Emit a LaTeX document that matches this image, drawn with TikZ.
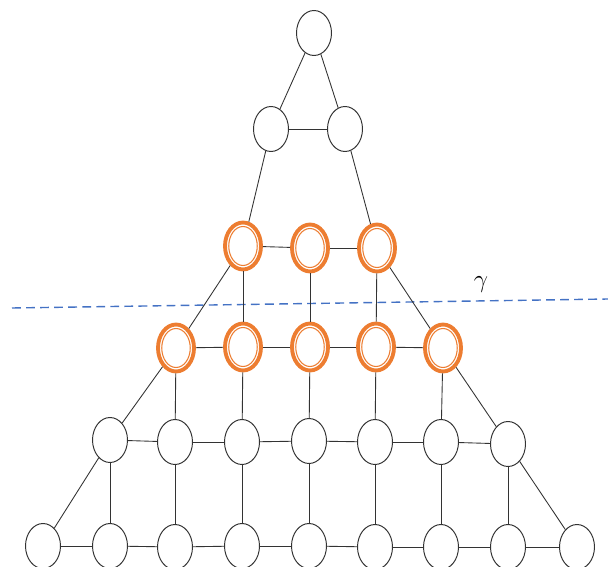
\documentclass[tikz,border=0pt]{standalone}
\usepackage{xcolor}
\usepackage{tikz}
\usetikzlibrary{shapes.geometric,positioning}
\definecolor{cutorange}{RGB}{237,125,49}
\definecolor{cutblue}{RGB}{68,114,196}

\begin{document}
\begin{tikzpicture}[x=0.02cm, y=-0.02cm,
    vtx/.style={ellipse, draw=black!80, line width=0.55pt, fill=white,
        minimum width=0.7cm, minimum height=0.9cm, inner sep=0pt},
    hl/.style={vtx, draw=cutorange, line width=2.2pt,
        minimum width=0.72cm, minimum height=0.94cm,
        path picture={\draw[cutorange, line width=0.6pt] (path picture bounding box.center) ellipse (0.285cm and 0.39cm);}},
    line/.style={draw, black!80, line width=0.5pt},
    cut/.style={draw, cutblue, line width=0.8pt, dash pattern=on 5pt off 3pt}
]
    \useasboundingbox (0,0) rectangle (608,567);

    \path[cut] (12,308) coordinate (cl) -- (608,299) coordinate (cr);
    \node[font=\Large] (gamma) at (481,285) {$\gamma$};

    \node[vtx] (t) at (314,33) {};

    \node[vtx] (a1) at (271,129) {};
    \node[vtx] (a2) at (345,129) {};

    \node[hl] (b1) at (243,246) {};
    \node[hl] (b2) at (310,248) {};
    \node[hl] (b3) at (377,248) {};

    \node[hl] (c1) at (176,348) {};
    \node[hl] (c2) at (243,347) {};
    \node[hl] (c3) at (310,347) {};
    \node[hl] (c4) at (376,347) {};
    \node[hl] (c5) at (443,348) {};

    \node[vtx] (d1) at (110,440) {};
    \node[vtx] (d2) at (175,442) {};
    \node[vtx] (d3) at (242,442) {};
    \node[vtx] (d4) at (309,441) {};
    \node[vtx] (d5) at (375,442) {};
    \node[vtx] (d6) at (441,442) {};
    \node[vtx] (d7) at (508,444) {};

    \node[vtx] (e1) at (43,546) {};
    \node[vtx] (e2) at (110,546) {};
    \node[vtx] (e3) at (175,547) {};
    \node[vtx] (e4) at (242,546) {};
    \node[vtx] (e5) at (309,546) {};
    \node[vtx] (e6) at (375,547) {};
    \node[vtx] (e7) at (441,547) {};
    \node[vtx] (e8) at (508,547) {};
    \node[vtx] (e9) at (577,547) {};

    \path[line] (t) -- (a1);
    \path[line] (t) -- (a2);
    \path[line] (a1) -- (a2);
    \path[line] (a1) -- (b1);
    \path[line] (a2) -- (b3);

    \path[line] (b1) -- (b2);
    \path[line] (b2) -- (b3);
    \path[line] (b1) -- (c1);
    \path[line] (b3) -- (c5);
    \path[line] (b1) -- (c2);
    \path[line] (b2) -- (c3);
    \path[line] (b3) -- (c4);

    \path[line] (c1) -- (c2);
    \path[line] (c2) -- (c3);
    \path[line] (c3) -- (c4);
    \path[line] (c4) -- (c5);
    \path[line] (c1) -- (d1);
    \path[line] (c5) -- (d7);
    \path[line] (c1) -- (d2);
    \path[line] (c2) -- (d3);
    \path[line] (c3) -- (d4);
    \path[line] (c4) -- (d5);
    \path[line] (c5) -- (d6);

    \path[line] (d1) -- (d2);
    \path[line] (d2) -- (d3);
    \path[line] (d3) -- (d4);
    \path[line] (d4) -- (d5);
    \path[line] (d5) -- (d6);
    \path[line] (d6) -- (d7);
    \path[line] (d1) -- (e1);
    \path[line] (d7) -- (e9);
    \path[line] (d1) -- (e2);
    \path[line] (d2) -- (e3);
    \path[line] (d3) -- (e4);
    \path[line] (d4) -- (e5);
    \path[line] (d5) -- (e6);
    \path[line] (d6) -- (e7);
    \path[line] (d7) -- (e8);

    \path[line] (e1) -- (e2);
    \path[line] (e2) -- (e3);
    \path[line] (e3) -- (e4);
    \path[line] (e4) -- (e5);
    \path[line] (e5) -- (e6);
    \path[line] (e6) -- (e7);
    \path[line] (e7) -- (e8);
    \path[line] (e8) -- (e9);
\end{tikzpicture}
\end{document}
